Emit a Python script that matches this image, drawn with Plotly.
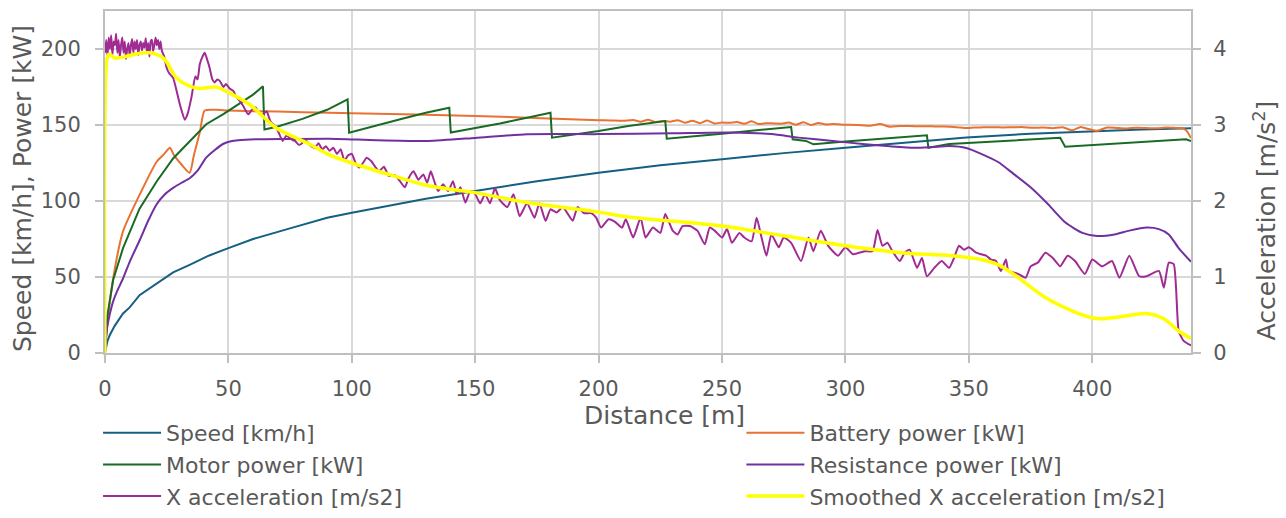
import plotly.graph_objects as go

# ---------------- data ----------------
speed_d = [0, 0.5, 1, 2, 4, 7.3, 10, 14, 21, 27.6, 34.3, 42, 50, 60, 76, 90, 100, 116, 130, 150,
           175, 200, 225, 250, 275, 300, 325, 349, 375, 400, 420, 440]
speed_v = [0, 5, 8, 12, 18, 26, 30, 38, 46, 53, 58, 64, 69, 75, 82.5, 89, 92.3, 97.4, 101.5, 106.6,
           113, 118.6, 123.5, 127.4, 131.5, 135, 138.5, 141.7, 144.3, 146, 147, 147.8]

battery_d = [0, 1, 3.3, 7.3, 14, 21, 24, 26.3, 28, 31, 34.3, 36, 38.4, 40.4, 45, 50, 70, 91, 100, 150,
             200, 205, 210, 214, 217, 220, 223, 226, 229, 232, 235, 238, 241, 244, 247, 250, 253, 256,
             259, 262, 265, 268, 271, 274, 277, 280, 283, 286, 289, 292, 295, 300, 305, 310, 314, 318,
             322, 326, 330, 335, 340, 345, 349, 352, 356, 360, 364, 368, 372, 376, 380, 384, 388, 392,
             395, 398, 402, 406, 410, 414, 418, 422, 426, 430, 434, 436, 438, 440]
battery_v = [0, 20, 49, 80, 104, 126, 131, 135, 130, 124, 118.6, 130, 145, 159.5, 160, 159.5, 158.8, 158, 157.8, 156,
             153.2, 153.0, 152.8, 153.3, 152.2, 153.5, 152.0, 152.6, 152.2, 153.2, 151.5, 152.8, 151.2, 152.9, 151.0, 151.7, 151.4, 152.0,
             150.8, 152.4, 150.6, 151.2, 151.0, 150.9, 151.6, 150.2, 151.8, 150.0, 151.3, 150.4, 150.6, 150.2, 150.0, 149.5, 150.6, 148.9,
             149.4, 149.3, 149.2, 149.1, 149.0, 148.6, 148.0, 148.3, 148.6, 148.5, 148.4, 148.5, 148.6, 148.2, 148.3, 147.9, 148.5, 146.5,
             148.6, 147.6, 146.2, 148.4, 148.0, 147.7, 148.2, 148.0, 147.8, 148.3, 148.1, 148.0, 146.5, 141.5]

motor_d = [0, 1, 3.3, 7.3, 14, 21, 27.6, 34.3, 41, 47.8, 54, 60, 64, 64.6, 70, 80, 90, 98.3, 98.9,
           110, 120, 130, 139.5, 140.1, 160, 180.5, 181.1, 200, 212, 227, 227.6, 250, 278, 278.6, 284,
           287, 300, 333, 333.6, 342, 362, 387, 389, 420, 438, 440]
motor_v = [0, 25, 48, 69, 95, 113, 128, 139.5, 150.5, 157, 163.5, 170, 175.5, 147, 149, 154, 160, 166.8, 145,
           150, 154, 158, 161.4, 145, 151, 158, 141.7, 146, 149.3, 152.6, 141, 144.3, 148.7, 140.6, 139.5,
           137.3, 139.2, 143.2, 135, 137.5, 139.5, 141.6, 135.7, 138.8, 140.6, 139.5]

resist_d = [0, 0.5, 1, 2, 3.3, 5, 7.3, 10, 14, 17.5, 21, 24, 27.6, 31, 34.3, 37.5, 41, 44.5, 47.8, 51,
            54, 61, 75, 91, 110, 131, 150, 171, 200, 230, 254, 270, 281, 295, 308, 318, 328, 335,
            342, 349, 355, 362, 368, 375, 382, 389, 396, 402, 409, 415, 422, 427, 431, 435, 440]
resist_v = [0, 12, 18, 26, 34, 41, 49, 60, 74, 87, 98, 104, 108.6, 112, 115, 120, 128.5, 133.5, 137.5, 139.3,
            140, 140.6, 140.8, 141, 140, 139.5, 141.5, 143.9, 144, 144.5, 145, 144, 141.7, 139.5, 137.3, 136, 135, 135.5,
            136.2, 134.9, 131, 125.5, 118, 109, 98, 86, 79, 77, 78, 80.5, 82.5, 81.5, 78, 69, 60]

xacc_d = [0, 0.5, 1, 1.5, 2, 2.5, 3, 3.5, 4, 4.5, 5, 5.5, 6, 6.5, 7, 7.5, 8, 8.5, 9, 9.5, 10, 10.5, 11, 11.5,
          12, 12.5, 13, 13.5, 14, 14.5, 15, 15.5, 16, 16.5, 17, 17.5, 18, 18.5, 19, 19.5, 20, 20.5, 21, 21.5,
          22, 22.5, 23, 24, 25, 26, 27.6, 29, 30.5, 32.3, 33.5, 35, 36.6, 37.5, 38.4, 39.5, 40.4, 41.5, 42.4,
          43.5, 44.4, 45.5, 46.5, 48, 49, 50.5, 52, 53, 54.5, 56, 58, 59.5, 61, 62.5, 64, 65.5, 67, 69.5, 71,
          72, 73.5, 74.5, 76, 77, 78.5, 79.5, 81, 82, 83.5, 85, 86.5, 88, 89.5, 91, 92.5, 94, 95.5, 97, 98.5,
          100, 101.5, 103, 104.5, 106, 107, 108, 109.5, 111, 113, 115, 117.5, 119.5, 121.5, 123, 125, 127,
          129, 130.5, 132, 133.5, 135, 137, 139, 141, 142.5, 144, 146, 148, 150, 152, 154, 156, 158, 160,
          163, 165.5, 168, 171, 174, 176, 178.5, 180.5, 183, 185.5, 187.5, 189.5, 191.5, 194, 197, 199, 201,
          204, 206.5, 209.5, 211, 214, 217, 219, 222, 225, 227, 230, 232, 234, 237, 240, 243, 245, 247, 250,
          252, 254, 257, 259, 262, 264, 266, 268, 270, 273, 275, 278, 282, 285, 287, 290, 293, 297, 300, 303,
          308, 311, 313, 315, 317, 319, 322, 324, 326, 329, 331, 333, 336, 339, 342, 344, 346, 348, 350, 353,
          355, 357, 359, 361, 363, 365, 366, 368, 370, 373, 375, 378, 381, 384, 387, 390, 393, 397, 400, 404,
          408, 411, 415, 419, 422, 427, 429, 431, 433, 435, 437, 440]
xacc_a = [3.95, 4.12, 3.9, 4.15, 4.0, 4.18, 3.92, 4.1, 4.05, 4.2, 3.95, 4.12, 3.88, 4.05, 4.15, 3.95, 4.1, 3.87, 4.0, 4.08, 3.9, 4.05, 4.13, 3.95,
          4.1, 4.0, 4.12, 3.92, 4.05, 4.1, 3.98, 4.08, 4.02, 4.14, 3.95, 4.08, 3.9, 4.1, 4.12, 3.97, 4.05, 4.15, 4.05, 4.12,
          4.0, 4.1, 3.98, 3.9, 3.75, 3.68, 3.62, 3.45, 3.25, 3.07, 3.15, 3.36, 3.64, 3.6, 3.8, 3.9, 3.95, 3.85, 3.75,
          3.6, 3.56, 3.6, 3.58, 3.5, 3.54, 3.48, 3.45, 3.38, 3.32, 3.25, 3.14, 3.2, 3.23, 3.15, 3.14, 3.18, 3.05, 2.96, 2.85,
          2.79, 2.86, 2.84, 2.8, 2.79, 2.74, 2.75, 2.8, 2.78, 2.72, 2.7, 2.76, 2.68, 2.72, 2.66, 2.7, 2.62, 2.68, 2.53, 2.6,
          2.62, 2.5, 2.44, 2.5, 2.57, 2.55, 2.52, 2.45, 2.39, 2.45, 2.33, 2.34, 2.26, 2.18, 2.3, 2.39, 2.28,
          2.35, 2.24, 2.39, 2.25, 2.13, 2.22, 2.13, 2.26, 2.09, 2.18, 1.98, 2.13, 2.09, 1.97, 2.09, 1.97, 2.17, 2.01,
          1.92, 2.09, 1.8, 1.97, 1.78, 1.97, 1.74, 1.89, 1.85, 1.92, 1.83, 1.74, 1.92, 1.84, 1.84, 1.78, 1.65,
          1.76, 1.73, 1.65, 1.76, 1.52, 1.78, 1.52, 1.65, 1.58, 1.83, 1.61, 1.56, 1.67, 1.67, 1.61, 1.43, 1.65, 1.61, 1.52,
          1.63, 1.45, 1.58, 1.52, 1.47, 1.78, 1.52, 1.28, 1.56, 1.39, 1.52, 1.45, 1.21, 1.52, 1.34, 1.61, 1.41, 1.28, 1.39, 1.3,
          1.34, 1.34, 1.62, 1.41, 1.45, 1.34, 1.21, 1.32, 1.36, 1.12, 1.25, 1.01, 1.12, 1.21, 1.12, 1.25, 1.41, 1.36, 1.39, 1.32,
          1.3, 1.28, 1.23, 1.21, 1.08, 1.23, 1.08, 1.06, 1.04, 0.99, 1.14, 1.19, 1.32, 1.25, 1.14, 1.28, 1.21, 1.04, 1.23, 1.14,
          1.21, 0.99, 1.28, 1.01, 1.01, 1.08, 0.86, 1.19, 1.17, 0.29, 0.16, 0.1]

smooth_d = [0, 0.7, 1.5, 2, 4, 8, 12, 16, 18, 20, 24, 29, 34.3, 38.4, 45, 50.5, 58.6, 69.4, 82.8, 90,
            100, 117, 131, 150, 171, 199, 212, 250, 300, 322, 343, 355, 362, 368, 381, 390, 397, 403,
            410, 416, 422, 429, 435, 440]
smooth_a = [0, 3.85, 3.93, 3.93, 3.88, 3.9, 3.93, 3.95, 3.95, 3.94, 3.87, 3.62, 3.51, 3.48, 3.5, 3.42, 3.27, 2.96, 2.75, 2.62,
            2.5, 2.33, 2.2, 2.11, 1.98, 1.86, 1.79, 1.67, 1.41, 1.32, 1.28, 1.23, 1.16, 1.04, 0.73, 0.58, 0.49, 0.45,
            0.47, 0.5, 0.52, 0.45, 0.29, 0.19]

x_ticks = [0, 50, 100, 150, 200, 250, 300, 350, 400]
y_ticks = [0, 50, 100, 150, 200]
y2_ticks = [0, 1, 2, 3, 4]

# ---------------- figure ----------------
FONT = "DejaVu Sans, sans-serif"
TXT = "#595959"
GRID = "#D9D9D9"
FRAME = "#BFBFBF"

fig = go.Figure()
fig.add_trace(go.Scatter(x=speed_d, y=speed_v, name="Speed [km/h]", mode="lines", legend="legend",
                         line=dict(color="#156082", width=2)))
fig.add_trace(go.Scatter(x=battery_d, y=battery_v, name="Battery power [kW]", mode="lines", legend="legend2",
                         line=dict(color="#E97132", width=2, shape="spline", smoothing=0.6)))
fig.add_trace(go.Scatter(x=motor_d, y=motor_v, name="Motor power [kW]", mode="lines", legend="legend",
                         line=dict(color="#196B24", width=2)))
fig.add_trace(go.Scatter(x=resist_d, y=resist_v, name="Resistance power [kW]", mode="lines", legend="legend2",
                         line=dict(color="#7030A0", width=2, shape="spline", smoothing=0.6)))
fig.add_trace(go.Scatter(x=xacc_d, y=xacc_a, name="X acceleration [m/s2]", mode="lines", yaxis="y2", legend="legend",
                         line=dict(color="#A02B93", width=2, shape="spline", smoothing=0.5)))
fig.add_trace(go.Scatter(x=smooth_d, y=smooth_a, name="Smoothed X acceleration [m/s2]", mode="lines", yaxis="y2",
                         legend="legend2",
                         line=dict(color="#FFFF00", width=3.5, shape="spline", smoothing=0.8)))

axis_common = dict(showgrid=True, gridcolor=GRID, gridwidth=2, showline=True, linecolor=FRAME, linewidth=2,
                   ticks="outside", ticklen=8, tickwidth=2, tickcolor=FRAME, zeroline=False,
                   tickfont=dict(family=FONT, size=21, color=TXT))

legend_common = dict(orientation="v", xanchor="left", y=-0.1725, yanchor="top",
                     font=dict(family=FONT, size=22, color=TXT), itemwidth=58,
                     bgcolor="rgba(0,0,0,0)", tracegroupgap=0, traceorder="normal")

title_font = dict(family=FONT, size=25, color=TXT)

fig.update_layout(
    width=1286, height=518,
    margin=dict(l=105, r=95, t=11, b=165, autoexpand=False),
    paper_bgcolor="white", plot_bgcolor="white",
    font=dict(family=FONT, color=TXT),
    xaxis=dict(range=[0, 440], tickvals=x_ticks, mirror=True, ticklabelstandoff=8, **axis_common),
    yaxis=dict(range=[0, 225], tickvals=y_ticks, mirror=True, ticklabelstandoff=10, **axis_common),
    yaxis2=dict(overlaying="y", side="right", range=[0, 4.5], tickvals=y2_ticks, showgrid=False,
                showline=True, linecolor=FRAME, linewidth=2, ticks="outside", ticklen=8, tickwidth=2,
                tickcolor=FRAME, zeroline=False, ticklabelstandoff=8,
                tickfont=dict(family=FONT, size=21, color=TXT)),
    legend=dict(x=-0.0064, **legend_common),
    legend2=dict(x=0.586, **legend_common),
    annotations=[
        dict(text="Distance [m]", xref="paper", yref="paper", x=0.515, y=-0.1375,
             xanchor="center", yanchor="top", showarrow=False, font=title_font, borderpad=0),
        dict(text="Speed [km/h], Power [kW]", xref="paper", yref="paper", x=-0.0765, y=0.482,
             xanchor="center", yanchor="middle", textangle=-90, showarrow=False, font=title_font),
        dict(text="Acceleration [m/s<sup>2</sup>]", xref="paper", yref="paper", x=1.0686, y=0.389,
             xanchor="center", yanchor="middle", textangle=-90, showarrow=False, font=title_font),
    ],
    showlegend=True,
)

fig.write_html("out.html")
